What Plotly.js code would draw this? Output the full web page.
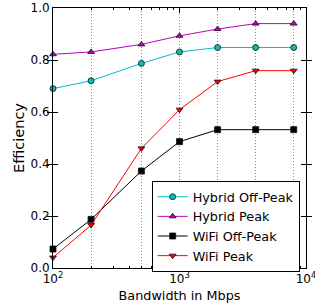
<!DOCTYPE html>
<html><head><meta charset="utf-8">
<script src="https://cdn.plot.ly/plotly-3.0.1.min.js"></script>
<style>html,body{margin:0;padding:0;background:#fff;}</style>
</head><body><div id="chart" style="width:315px;height:307px;"></div>
<script>
const bandwidth = [100, 200, 500, 1000, 2000, 4000, 8000];
const hybridOffPeak = [0.69, 0.72, 0.787, 0.831, 0.848, 0.848, 0.848];
const hybridPeak = [0.822, 0.831, 0.86, 0.893, 0.919, 0.94, 0.94];
const wifiOffPeak = [0.073, 0.187, 0.373, 0.486, 0.532, 0.532, 0.532];
const wifiPeak = [0.04, 0.165, 0.46, 0.609, 0.717, 0.759, 0.759];
const xTickVals = [100, 1000, 10000];
const xTickText = ['10<sup>2</sup>', '10<sup>3</sup>', '10<sup>4</sup>'];
const yTickVals = [0, 0.2, 0.4, 0.6, 0.8, 1.0];
const yTickText = ['0.0', '0.2', '0.4', '0.6', '0.8', '1.0'];
const seriesNames = ['Hybrid Off-Peak', 'Hybrid Peak', 'WiFi Off-Peak', 'WiFi Peak'];

function tr(name, y, color, symbol, fill) {
  return {x: bandwidth, y: y, name: name, type: 'scatter', mode: 'lines+markers',
    line: {color: color, width: 1},
    marker: {symbol: symbol, size: 6, color: fill, line: {color: '#111', width: 0.8}},
    cliponaxis: false};
}
const data = [
  tr(seriesNames[0], hybridOffPeak, '#00BFBF', 'circle', '#00BFBF'),
  tr(seriesNames[1], hybridPeak, '#BF00BF', 'triangle-up', '#BF00BF'),
  tr(seriesNames[2], wifiOffPeak, '#000000', 'square', '#000000'),
  tr(seriesNames[3], wifiPeak, '#FF0000', 'triangle-down', '#FF0000'),
  {x: bandwidth, y: bandwidth.map(() => null), xaxis: 'x2', showlegend: false, hoverinfo: 'skip', mode: 'markers', type: 'scatter'}
];
const font = {family: 'DejaVu Sans, sans-serif', size: 12, color: '#000'};
const layout = {
  width: 315, height: 307,
  margin: {l: 53, r: 9, t: 8, b: 39},
  paper_bgcolor: '#fff', plot_bgcolor: '#fff',
  font: font,
  showlegend: true,
  xaxis: {type: 'log', range: [2, 4], tickvals: xTickVals, ticktext: xTickText,
    ticks: 'inside', ticklen: 5, tickcolor: '#000', mirror: 'allticks',
    showline: true, linecolor: '#000', linewidth: 1, showgrid: false, zeroline: false,
    ticklabeloverflow: 'allow',
    minor: {ticks: 'inside', ticklen: 2, tickcolor: '#000', dtick: 'D1', showgrid: false},
    tickfont: {size: 12},
    title: {text: 'Bandwidth in Mbps', font: {size: 12.8}, standoff: 5}},
  xaxis2: {type: 'log', range: [2, 4], overlaying: 'x', tickvals: bandwidth,
    showticklabels: false, ticks: '', showgrid: true, gridcolor: '#8a8a8a', griddash: '1px,2px',
    gridwidth: 1, zeroline: false, showline: false},
  yaxis: {range: [0, 1], tickvals: yTickVals, ticktext: yTickText,
    ticks: 'inside', ticklen: 5, tickcolor: '#000', mirror: 'allticks',
    showline: true, linecolor: '#000', linewidth: 1, showgrid: false, zeroline: false,
    ticklabeloverflow: 'allow',
    tickfont: {size: 12},
    title: {text: 'Efficiency', font: {size: 14.5}, standoff: 2}},
  legend: {x: 0.39, y: 0.335, xanchor: 'left', yanchor: 'top',
    bordercolor: '#000', borderwidth: 1, bgcolor: '#fff',
    font: {size: 12.8}, tracegroupgap: 0, itemwidth: 30}
};
Plotly.newPlot('chart', data, layout, {staticPlot: true, displayModeBar: false});
</script></body></html>
